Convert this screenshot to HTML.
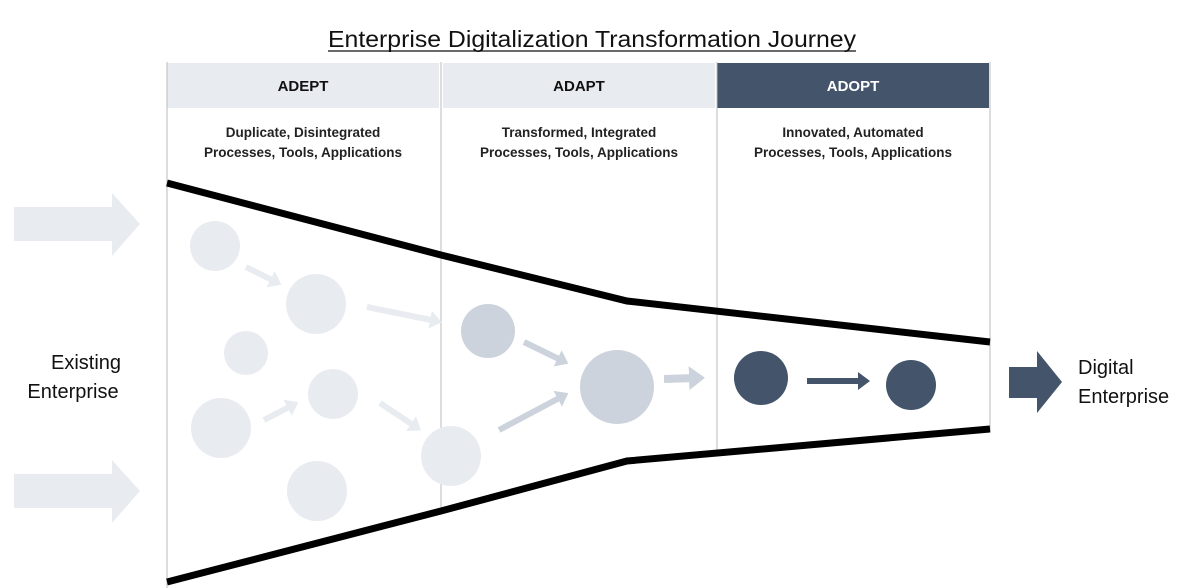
<!DOCTYPE html>
<html><head><meta charset="utf-8"><style>
body{margin:0;background:#fff;}
svg{display:block;font-family:"Liberation Sans",sans-serif;}
</style></head><body>
<svg width="1200" height="588" viewBox="0 0 1200 588">
<defs>
<marker id="ml" markerWidth="3" markerHeight="3" refX="1" refY="1.5" orient="auto" markerUnits="strokeWidth"><path d="M0,0L2,1.5L0,3z" fill="#e8ebf0"/></marker>
<marker id="mm" markerWidth="3" markerHeight="3" refX="1" refY="1.5" orient="auto" markerUnits="strokeWidth"><path d="M0,0L2,1.5L0,3z" fill="#ccd3dc"/></marker>
<marker id="md" markerWidth="3" markerHeight="3" refX="1" refY="1.5" orient="auto" markerUnits="strokeWidth"><path d="M0,0L2,1.5L0,3z" fill="#44546a"/></marker>
</defs>
<text x="328" y="47" font-size="23" fill="#111" textLength="528" lengthAdjust="spacingAndGlyphs">Enterprise Digitalization Transformation Journey</text>
<line x1="328" y1="51" x2="856" y2="51" stroke="#111" stroke-width="1.2"/>
<rect x="167" y="63" width="272" height="45" fill="#e8ebf0"/>
<rect x="443" y="63" width="272" height="45" fill="#e8ebf0"/>
<rect x="717" y="63" width="272" height="45" fill="#44546a"/>
<g font-size="15" font-weight="bold" text-anchor="middle">
<text x="303" y="91" fill="#111">ADEPT</text>
<text x="579" y="91" fill="#111">ADAPT</text>
<text x="853" y="91" fill="#fff">ADOPT</text>
</g>
<g font-size="13.5" font-weight="bold" text-anchor="middle" fill="#222">
<text x="303" y="137">Duplicate, Disintegrated</text>
<text x="303" y="157">Processes, Tools, Applications</text>
<text x="579" y="137">Transformed, Integrated</text>
<text x="579" y="157">Processes, Tools, Applications</text>
<text x="853" y="137">Innovated, Automated</text>
<text x="853" y="157">Processes, Tools, Applications</text>
</g>
<g stroke="#bbb" stroke-width="1">
<line x1="167" y1="62" x2="167" y2="588"/>
<line x1="441" y1="62" x2="441" y2="512"/>
<line x1="717" y1="62" x2="717" y2="455"/>
<line x1="990" y1="62" x2="990" y2="432"/>
</g>
<polyline points="167,183 441,255 627,301 990,342" fill="none" stroke="#000" stroke-width="7"/>
<polyline points="167,582 441,511 627,461 990,429" fill="none" stroke="#000" stroke-width="7"/>
<g fill="#e8ebf0">
<circle cx="215" cy="246" r="25"/><circle cx="316" cy="304" r="30"/>
<circle cx="246" cy="353" r="22"/><circle cx="333" cy="394" r="25"/>
<circle cx="221" cy="428" r="30"/><circle cx="317" cy="491" r="30"/>
<circle cx="451" cy="456" r="30"/>
<polygon points="14,207 112,207 112,193 140,224 112,256 112,241 14,241"/>
<polygon points="14,474 112,474 112,460 140,491 112,523 112,508 14,508"/>
</g>
<g stroke-width="6" fill="none">
<line x1="246" y1="267" x2="276" y2="282" stroke="#e8ebf0" marker-end="url(#ml)"/>
<line x1="367" y1="307" x2="436" y2="321" stroke="#e8ebf0" marker-end="url(#ml)"/>
<line x1="264" y1="420" x2="293" y2="405" stroke="#e8ebf0" marker-end="url(#ml)"/>
<line x1="380" y1="403" x2="416" y2="427" stroke="#e8ebf0" marker-end="url(#ml)"/>
<line x1="524" y1="342" x2="563" y2="361" stroke="#ccd3dc" marker-end="url(#mm)"/>
<line x1="499" y1="430" x2="563" y2="396" stroke="#ccd3dc" marker-end="url(#mm)"/>
<line x1="664" y1="379" x2="697" y2="378" stroke="#ccd3dc" stroke-width="8" marker-end="url(#mm)"/>
<line x1="807" y1="381" x2="864" y2="381" stroke="#44546a" marker-end="url(#md)"/>
</g>
<g fill="#ccd3dc"><circle cx="488" cy="331" r="27"/><circle cx="617" cy="387" r="37"/></g>
<g fill="#44546a"><circle cx="761" cy="378" r="27"/><circle cx="911" cy="385" r="25"/>
<polygon points="1009,367 1037,367 1037,351 1062,382 1037,413 1037,398 1009,398"/></g>
<g font-size="20" fill="#111">
<text x="86" y="369" text-anchor="middle">Existing</text>
<text x="73" y="398" text-anchor="middle">Enterprise</text>
<text x="1078" y="374">Digital</text>
<text x="1078" y="403">Enterprise</text>
</g>
</svg>
</body></html>
